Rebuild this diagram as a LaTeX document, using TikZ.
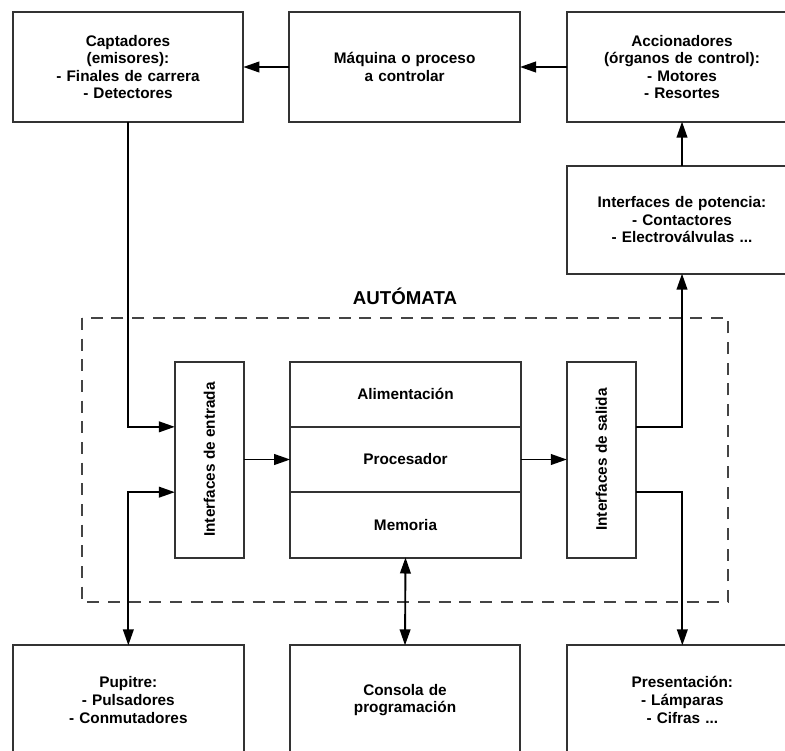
\documentclass[tikz,border=0pt]{standalone}
\usepackage{fontspec}
\setmainfont{Liberation Sans}
\usetikzlibrary{positioning,arrows.meta}
\definecolor{linecolor}{RGB}{51,51,51}
\definecolor{dashcolor}{RGB}{68,68,68}

\begin{document}
\begin{tikzpicture}[x=0.75pt, y=-0.75pt, font=\fontsize{11.5}{13.2}\selectfont\bfseries]
    % Define styles
    \tikzstyle{block} = [rectangle, draw=linecolor, line width=1.5pt, text width=165pt, text centered, minimum width=173pt, minimum height=82pt, outer sep=0pt]
    \tikzstyle{cell} = [rectangle, draw=linecolor, line width=1.5pt, minimum width=173pt, minimum height=49pt, outer sep=0pt]
    \tikzstyle{slim} = [rectangle, draw=linecolor, line width=1.5pt, minimum width=52pt, minimum height=147pt, outer sep=0pt]
    \tikzstyle{arrow} = [line width=1.4pt, -{Triangle[length=12pt,width=8pt]}]
    \tikzstyle{dualarrow} = [line width=1.4pt, {Triangle[length=12pt,width=8pt]}-{Triangle[length=12pt,width=8pt]}]

    \useasboundingbox (0,0) rectangle (785,750);
    \clip (0,0) rectangle (785,750);

    % Nodes
    \node [block] (captadores) at (128,67) {Captadores\\(emisores):\\- Finales de carrera\\- Detectores};
    \node [block, right=34.5pt of captadores] (maquina) {Máquina o proceso\\a controlar};
    \node [block, right=35pt of maquina] (accionadores) {Accionadores\\(órganos de control):\\- Motores\\- Resortes};
    \node [block, minimum height=81pt, below=33pt of accionadores] (potencia) {Interfaces de potencia:\\- Contactores\\- Electroválvulas ...};

    \node [font=\fontsize{14}{16}\selectfont\bfseries] (automata) at (405,296) {AUTÓMATA};
    \draw [dashcolor, line width=1.5pt, dash pattern=on 9pt off 6.5pt] (82,318) rectangle (728,602);

    \node [cell] (proc) at (405.5,459.5) {Procesador};
    \node [cell, above=0pt of proc] (alim) {Alimentación};
    \node [cell, below=0pt of proc] (memo) {Memoria};
    \node [slim, left=34.5pt of proc] (entrada) {\rotatebox{90}{Interfaces de entrada}};
    \node [slim, right=34.5pt of proc] (salida) {\rotatebox{90}{Interfaces de salida}};

    \node [block] (consola) at (405,700) {Consola de\\programación};
    \node [block, left=34.5pt of consola] (pupitre) {Pupitre:\\- Pulsadores\\- Conmutadores};
    \node [block, right=35pt of consola] (presentacion) {Presentación:\\- Lámparas\\- Cifras ...};

    % Arrows
    \draw [arrow] (maquina) -- (captadores);
    \draw [arrow] (accionadores) -- (maquina);
    \draw [arrow] (potencia) -- (accionadores);
    \draw [arrow] (captadores.south) |- (proc.north -| entrada.west);
    \draw [dualarrow] (memo.north -| entrada.west) -| (pupitre.north);
    \draw [arrow] (entrada) -- (proc);
    \draw [arrow] (proc) -- (salida);
    \draw [arrow] (proc.north -| salida.east) -| (potencia.south);
    \draw [arrow] (memo.north -| salida.east) -| (presentacion.north);
    \draw [dualarrow] (memo.south) -- (consola.north);
\end{tikzpicture}
\end{document}
